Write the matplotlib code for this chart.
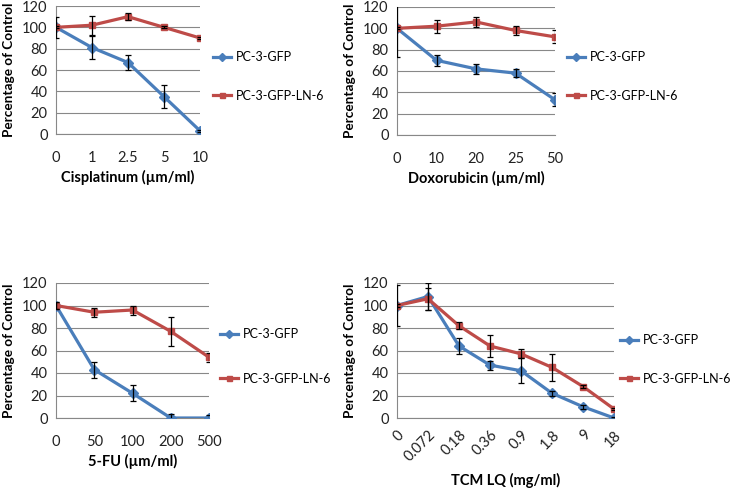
import matplotlib.pyplot as plt

plt.rcParams['font.family'] = ['Lato', 'DejaVu Sans']

blue = '#4A7EBB'
red = '#BE4B48'

# Cisplatinum
cis_x = ['0', '1', '2.5', '5', '10']
cis_gfp = [100, 81, 67, 35, 3]
cis_gfp_err = [10, 11, 7, 11, 1]
cis_ln6 = [100, 102, 110, 100, 90]
cis_ln6_err = [1, 9, 3, 1, 1]

# Doxorubicin
dox_x = ['0', '10', '20', '25', '50']
dox_gfp = [100, 70, 62, 58, 33]
dox_gfp_err = [27, 5, 5, 4, 6]
dox_ln6 = [100, 102, 106, 98, 92]
dox_ln6_err = [1, 6, 5, 4, 6]

# 5-FU
fu_x = ['0', '50', '100', '200', '500']
fu_gfp = [100, 43, 22, 0, 0]
fu_gfp_err = [3, 7, 7, 4, 3]
fu_ln6 = [100, 94, 96, 77, 54]
fu_ln6_err = [3, 4, 4, 13, 4]

# TCM LQ
tcm_x = ['0', '0.072', '0.18', '0.36', '0.9', '1.8', '9', '18']
tcm_gfp = [100, 108, 64, 47, 42, 22, 10, 0]
tcm_gfp_err = [18, 12, 7, 4, 11, 2, 2, 1]
tcm_ln6 = [100, 106, 82, 64, 57, 45, 28, 8]
tcm_ln6_err = [1, 10, 3, 10, 4, 12, 1, 1]

W, H = 733, 488
fig = plt.figure(figsize=(W / 100, H / 100), dpi=100)

# (left, top, right, bottom) in pixels, xlabel y, ylabel x, legend x, legend rows y
panels = [
    ((56, 6, 200, 134), cis_x, cis_gfp, cis_gfp_err, cis_ln6, cis_ln6_err,
     'Cisplatinum (µm/ml)', 0, 177, 9, 213, (57, 96)),
    ((397, 7, 555, 135), dox_x, dox_gfp, dox_gfp_err, dox_ln6, dox_ln6_err,
     'Doxorubicin (µm/ml)', 0, 178, 350, 567, (57, 96)),
    ((56, 283, 209, 418), fu_x, fu_gfp, fu_gfp_err, fu_ln6, fu_ln6_err,
     '5-FU (µm/ml)', 0, 461, 9, 220, (334, 379)),
    ((397, 283, 614, 418), tcm_x, tcm_gfp, tcm_gfp_err, tcm_ln6, tcm_ln6_err,
     'TCM LQ (mg/ml)', 45, 480, 350, 620, (340, 379)),
]

for rect, cats, gfp, gfp_err, ln6, ln6_err, xlabel, rot, xl_y, yl_x, leg_x, leg_y in panels:
    left, top, right, bottom = rect
    ax = fig.add_axes([left / W, 1 - bottom / H, (right - left) / W, (bottom - top) / H])
    x = list(range(len(cats)))
    ax.errorbar(x, gfp, yerr=gfp_err, fmt='none', ecolor='black', elinewidth=0.9,
                capsize=2, capthick=0.9, zorder=4)
    ax.errorbar(x, ln6, yerr=ln6_err, fmt='none', ecolor='black', elinewidth=0.9,
                capsize=2, capthick=0.9, zorder=4)
    ax.plot(x, gfp, color=blue, marker='D', markersize=5, linewidth=2.3,
            label='PC-3-GFP', zorder=3)
    ax.plot(x, ln6, color=red, marker='s', markersize=4.5, linewidth=2.3,
            label='PC-3-GFP-LN-6', zorder=3)
    ax.set_xlim(0, len(cats) - 1)
    ax.set_ylim(0, 120)
    ax.set_yticks(range(0, 121, 20))
    ax.set_xticks(x)
    ax.tick_params(axis='both', labelsize=10.5, length=0, colors='#222222')
    if rot:
        ax.set_xticklabels(cats, rotation=rot, ha='right', va='top',
                           rotation_mode='anchor')
        ax.tick_params(axis='x', pad=7)
    else:
        ax.set_xticklabels(cats)
        ax.tick_params(axis='x', pad=12)
    ax.tick_params(axis='y', pad=6)
    ax.grid(axis='y', color='#888888', linewidth=0.8)
    ax.set_axisbelow(True)
    for s in ['top', 'right']:
        ax.spines[s].set_visible(False)
    for s in ['left', 'bottom']:
        ax.spines[s].set_color('#888888')
        ax.spines[s].set_linewidth(0.8)
    ax.set_xlabel(xlabel, fontsize=10.5, fontweight='bold', va='center')
    ax.xaxis.set_label_coords(0.5, (bottom - xl_y) / (bottom - top))
    ax.set_ylabel('Percentage of Control', fontsize=9.8, fontweight='bold', va='center')
    ax.yaxis.set_label_coords((yl_x - left) / (right - left), 0.5)
    gap = leg_y[1] - leg_y[0]
    ax.legend(loc='center left',
              bbox_to_anchor=(leg_x / W, 1 - (leg_y[0] + leg_y[1]) / 2 / H),
              bbox_transform=fig.transFigure, frameon=False, fontsize=9.0,
              labelspacing=(gap - 12.5) / 12.5, handlelength=1.45, handletextpad=0.4,
              borderpad=0, borderaxespad=0, markerscale=0.8)

fig.savefig('out.png', dpi=100)
